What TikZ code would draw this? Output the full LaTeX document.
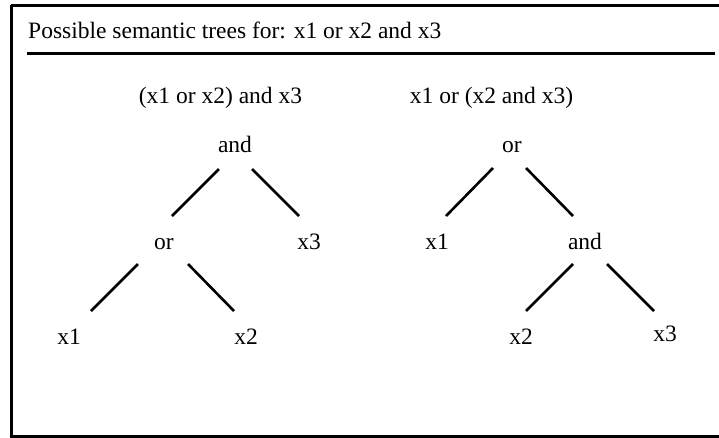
\documentclass[tikz,border=0pt]{standalone}
\usepackage{fontspec}
\setmainfont{Liberation Serif}
\usetikzlibrary{calc}
\tikzset{
  lbl/.style={anchor=base, inner sep=0pt, font=\fontsize{23.5}{28}\selectfont},
  edge/.style={line width=2.6pt},
  frame/.style={line width=3pt}
}
\begin{document}
\begin{tikzpicture}[x=1pt,y=-1pt]
\useasboundingbox (0,0) rectangle (719,437);
\draw[frame] (11,5) -- (730,5);
\draw[frame] (11,5) -- (11,436.5) -- (730,436.5);
\node[lbl, anchor=base west] (title) at (28,38) {Possible semantic trees for: x1 or x2 and x3};
\coordinate (hl) at (27,53.5);
\coordinate (hr) at (715,53.5);
\draw[frame] (hl) -- (hr);
% left tree
\node[lbl] (sub1) at (220.5,103) {(x1 or x2) and x3};
\node[lbl] (la) at (235,152) {and};
\node[lbl] (lo) at (164,249) {or};
\node[lbl] (lx3) at (309,249) {x3};
\node[lbl] (lx1) at (69,344) {x1};
\node[lbl] (lx2) at (246,344) {x2};
\draw[edge] ($(la.base)+(-16,17)$) -- ($(lo.base)+(8,-33)$);
\draw[edge] ($(la.base)+(17,17)$) -- ($(lx3.base)+(-10,-33)$);
\draw[edge] ($(lo.base)+(-26,15)$) -- ($(lx1.base)+(22,-33)$);
\draw[edge] ($(lo.base)+(24,15)$) -- ($(lx2.base)+(-12,-33)$);
% right tree
\node[lbl] (sub2) at (491.5,103) {x1 or (x2 and x3)};
\node[lbl] (ro) at (512,152) {or};
\node[lbl] (rx1) at (437,249) {x1};
\node[lbl] (ra) at (585,249) {and};
\node[lbl] (rx2) at (521,344) {x2};
\node[lbl] (rx3) at (665,341) {x3};
\draw[edge] ($(ro.base)+(-19,16)$) -- ($(rx1.base)+(9,-33)$);
\draw[edge] ($(ro.base)+(14,16)$) -- ($(ra.base)+(-12,-33)$);
\draw[edge] ($(ra.base)+(-12,15)$) -- ($(rx2.base)+(5,-33)$);
\draw[edge] ($(ra.base)+(22,15)$) -- ($(rx3.base)+(-11,-30)$);
\end{tikzpicture}
\end{document}
